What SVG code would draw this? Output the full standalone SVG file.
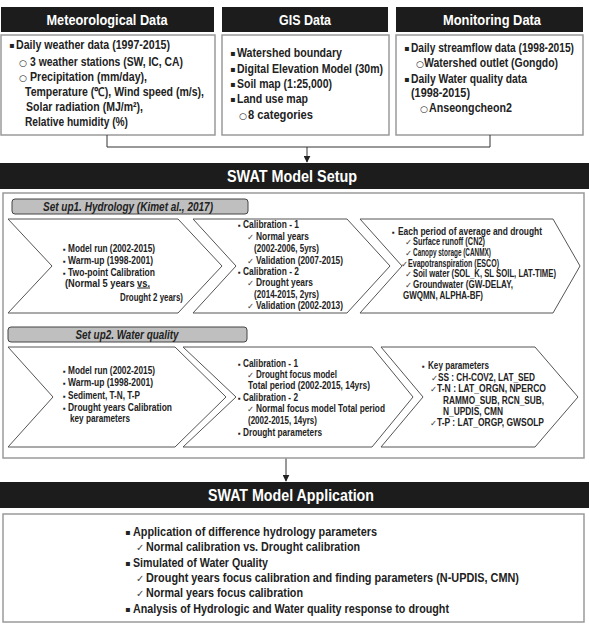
<svg xmlns="http://www.w3.org/2000/svg" width="589" height="627" viewBox="0 0 589 627">
<defs>
<marker id="arr" viewBox="0 0 10 10" refX="9" refY="5" markerWidth="7" markerHeight="7" orient="auto"><path d="M0,0 L10,5 L0,10 z" fill="#222"/></marker>
<style>
text{font-family:"Liberation Sans Narrow","Liberation Sans",Arial,sans-serif;font-weight:bold;fill:#222}
.hd{font-size:15px;fill:#fff;text-anchor:middle}
.hb{font-size:17px;fill:#fff;text-anchor:middle}
.hbar{fill:#1c1c1c}
.box{fill:#fff;stroke:#9a9a9a;stroke-width:1.5}
.tp{font-size:12px}
.bt{font-size:12px}
.ch{font-size:10px}
.ck{font-size:8.5px;font-weight:normal;fill:#444;font-family:"DejaVu Sans",sans-serif}
.bl{font-size:8px}
.sb{font-size:8px;font-family:"DejaVu Sans",sans-serif;font-weight:normal}
.cir{font-size:9px;font-family:"DejaVu Sans",sans-serif;font-weight:normal}
.chev{fill:#fff;stroke:#555;stroke-width:1}
.lab{fill:#bfbfbf;stroke:#444;stroke-width:1}
.lt{font-size:12px;font-style:italic;text-anchor:middle}
.con{fill:none;stroke:#333;stroke-width:1}
</style>
</defs>

<g id="met">
<rect class="hbar" x="1" y="7" width="213" height="25"/>
<text class="hd" x="107" y="25" textLength="121" lengthAdjust="spacingAndGlyphs">Meteorological Data</text>
<rect class="box" x="1" y="35" width="214" height="100"/>
<text class="sb" x="9" y="48">▪</text><text class="tp" x="16" y="49" textLength="154" lengthAdjust="spacingAndGlyphs">Daily weather data (1997-2015)</text>
<text class="cir" x="19" y="66">○</text><text class="tp" x="30" y="66" textLength="153" lengthAdjust="spacingAndGlyphs">3 weather stations (SW, IC, CA)</text>
<text class="cir" x="19" y="81">○</text><text class="tp" x="30" y="81" textLength="117" lengthAdjust="spacingAndGlyphs">Precipitation (mm/day),</text>
<text class="tp" x="25" y="96" textLength="179" lengthAdjust="spacingAndGlyphs">Temperature (℃), Wind speed (m/s),</text>
<text class="tp" x="26" y="111" textLength="117" lengthAdjust="spacingAndGlyphs">Solar radiation (MJ/m²),</text>
<text class="tp" x="25" y="126" textLength="103" lengthAdjust="spacingAndGlyphs">Relative humidity (%)</text>
</g>

<g id="gis">
<rect class="hbar" x="222" y="7" width="166" height="25"/>
<text class="hd" x="305" y="25" textLength="52" lengthAdjust="spacingAndGlyphs">GIS Data</text>
<rect class="box" x="222" y="35" width="167" height="100"/>
<text class="sb" x="230" y="56">▪</text><text class="tp" x="237" y="57" textLength="105" lengthAdjust="spacingAndGlyphs">Watershed boundary</text>
<text class="sb" x="230" y="72">▪</text><text class="tp" x="237" y="73" textLength="146" lengthAdjust="spacingAndGlyphs">Digital Elevation Model (30m)</text>
<text class="sb" x="230" y="87">▪</text><text class="tp" x="237" y="88" textLength="95" lengthAdjust="spacingAndGlyphs">Soil map (1:25,000)</text>
<text class="sb" x="230" y="102">▪</text><text class="tp" x="237" y="103" textLength="71" lengthAdjust="spacingAndGlyphs">Land use map</text>
<text class="cir" x="239" y="119">○</text><text class="tp" x="248" y="119" textLength="65" lengthAdjust="spacingAndGlyphs">8 categories</text>
</g>

<g id="mon">
<rect class="hbar" x="396" y="7" width="187" height="25"/>
<text class="hd" x="492" y="25" textLength="98" lengthAdjust="spacingAndGlyphs">Monitoring Data</text>
<rect class="box" x="396" y="35" width="187" height="100"/>
<text class="sb" x="404" y="51">▪</text><text class="tp" x="411" y="52" textLength="163" lengthAdjust="spacingAndGlyphs">Daily streamflow data (1998-2015)</text>
<text class="cir" x="416" y="67">○</text><text class="tp" x="424" y="67" textLength="134" lengthAdjust="spacingAndGlyphs">Watershed outlet (Gongdo)</text>
<text class="sb" x="404" y="82">▪</text><text class="tp" x="411" y="83" textLength="116" lengthAdjust="spacingAndGlyphs">Daily Water quality data</text>
<text class="tp" x="411" y="97" textLength="59" lengthAdjust="spacingAndGlyphs">(1998-2015)</text>
<text class="cir" x="420" y="112">○</text><text class="tp" x="429" y="112" textLength="83" lengthAdjust="spacingAndGlyphs">Anseongcheon2</text>
</g>

<g id="connectors">
<path class="con" d="M107,135 V147 H490 V135"/>
<path class="con" d="M307,147 V162" marker-end="url(#arr)"/>
<path class="con" d="M286,458 V481" marker-end="url(#arr)"/>
</g>

<g id="setup">
<rect class="hbar" x="0" y="163" width="589" height="26"/>
<text class="hb" x="292" y="182" textLength="130" lengthAdjust="spacingAndGlyphs">SWAT Model Setup</text>
<rect class="box" x="3" y="193" width="581" height="265"/>
</g>

<g id="setup1-label">
<rect class="lab" x="12" y="199" width="236" height="15" rx="3"/>
<text class="lt" x="128" y="211" textLength="170" lengthAdjust="spacingAndGlyphs">Set up1. Hydrology (Kimet al., 2017)</text>
</g>

<g id="s1c1">
<polygon class="chev" points="8,219 178,219 222,266 178,313 8,313 52,266"/>
<text class="bl" x="63" y="251.5">▪</text><text class="ch" x="68" y="251.5" textLength="87" lengthAdjust="spacingAndGlyphs">Model run (2002-2015)</text>
<text class="bl" x="63" y="263.5">▪</text><text class="ch" x="68" y="263.5" textLength="85" lengthAdjust="spacingAndGlyphs">Warm-up (1998-2001)</text>
<text class="bl" x="63" y="275.5">▪</text><text class="ch" x="68" y="275.5" textLength="87" lengthAdjust="spacingAndGlyphs">Two-point Calibration</text>
<text class="ch" x="65" y="286.5" textLength="85" lengthAdjust="spacingAndGlyphs">(Normal 5 years <tspan text-decoration="underline">vs.</tspan></text>
<text class="ch" x="120" y="300.5" textLength="63" lengthAdjust="spacingAndGlyphs">Drought 2 years)</text>
</g>

<g id="s1c2">
<polygon class="chev" points="193,219 347,219 390,266 347,313 193,313 236,266"/>
<text class="bl" x="238" y="227.5">▪</text><text class="ch" x="243" y="227.5" textLength="56" lengthAdjust="spacingAndGlyphs">Calibration - 1</text>
<text class="ck" x="247" y="239.5">✓</text><text class="ch" x="256" y="239.5" textLength="53" lengthAdjust="spacingAndGlyphs">Normal years</text>
<text class="ch" x="254" y="251.5" textLength="65" lengthAdjust="spacingAndGlyphs">(2002-2006, 5yrs)</text>
<text class="ck" x="247" y="263.5">✓</text><text class="ch" x="256" y="263.5" textLength="87" lengthAdjust="spacingAndGlyphs">Validation (2007-2015)</text>
<text class="bl" x="238" y="274.5">▪</text><text class="ch" x="243" y="274.5" textLength="56" lengthAdjust="spacingAndGlyphs">Calibration - 2</text>
<text class="ck" x="247" y="285.5">✓</text><text class="ch" x="256" y="285.5" textLength="57" lengthAdjust="spacingAndGlyphs">Drought years</text>
<text class="ch" x="254" y="297.5" textLength="65" lengthAdjust="spacingAndGlyphs">(2014-2015, 2yrs)</text>
<text class="ck" x="247" y="308.5">✓</text><text class="ch" x="256" y="308.5" textLength="87" lengthAdjust="spacingAndGlyphs">Validation (2002-2013)</text>
</g>

<g id="s1c3">
<polygon class="chev" points="360,219 553,219 580,266 553,313 360,313 402,266"/>
<text class="bl" x="392" y="234.5">▪</text><text class="ch" x="398" y="234.5" textLength="144" lengthAdjust="spacingAndGlyphs">Each period of average and drought</text>
<text class="ck" x="405" y="244.5">✓</text><text class="ch" x="413" y="244.5" textLength="72" lengthAdjust="spacingAndGlyphs">Surface runoff (CN2)</text>
<text class="ck" x="405" y="255.5">✓</text><text class="ch" x="413" y="255.5" textLength="78" lengthAdjust="spacingAndGlyphs">Canopy storage (CANMX)</text>
<text class="ck" x="401" y="266.5">✓</text><text class="ch" x="408" y="266.5" textLength="91" lengthAdjust="spacingAndGlyphs">Evapotranspiration (ESCO)</text>
<text class="ck" x="405" y="276.5">✓</text><text class="ch" x="413" y="276.5" textLength="143" lengthAdjust="spacingAndGlyphs">Soil water (SOL_K, SL SOIL, LAT-TIME)</text>
<text class="ck" x="405" y="287.5">✓</text><text class="ch" x="413" y="287.5" textLength="100" lengthAdjust="spacingAndGlyphs">Groundwater (GW-DELAY,</text>
<text class="ch" x="403" y="298.5" textLength="80" lengthAdjust="spacingAndGlyphs">GWQMN, ALPHA-BF)</text>
</g>

<g id="setup2-label">
<rect class="lab" x="8" y="327" width="239" height="15" rx="3"/>
<text class="lt" x="127" y="339" textLength="103" lengthAdjust="spacingAndGlyphs">Set up2. Water quality</text>
</g>

<g id="s2c1">
<polygon class="chev" points="8,347 175,347 226,397 175,447 8,447 53,397"/>
<text class="bl" x="63" y="373.5">▪</text><text class="ch" x="68" y="373.5" textLength="87" lengthAdjust="spacingAndGlyphs">Model run (2002-2015)</text>
<text class="bl" x="63" y="386">▪</text><text class="ch" x="68" y="386" textLength="85" lengthAdjust="spacingAndGlyphs">Warm-up (1998-2001)</text>
<text class="bl" x="63" y="398.5">▪</text><text class="ch" x="68" y="398.5" textLength="72" lengthAdjust="spacingAndGlyphs">Sediment, T-N, T-P</text>
<text class="bl" x="63" y="410.5">▪</text><text class="ch" x="68" y="410.5" textLength="104" lengthAdjust="spacingAndGlyphs">Drought years Calibration</text>
<text class="ch" x="70" y="421.5" textLength="60" lengthAdjust="spacingAndGlyphs">key parameters</text>
</g>

<g id="s2c2">
<polygon class="chev" points="183,347 372,347 413,397 372,447 183,447 236,397"/>
<text class="bl" x="238" y="366.5">▪</text><text class="ch" x="243" y="366.5" textLength="55" lengthAdjust="spacingAndGlyphs">Calibration - 1</text>
<text class="ck" x="247" y="377.5">✓</text><text class="ch" x="256" y="377.5" textLength="81" lengthAdjust="spacingAndGlyphs">Drought focus model</text>
<text class="ch" x="248" y="388.5" textLength="122" lengthAdjust="spacingAndGlyphs">Total period (2002-2015, 14yrs)</text>
<text class="bl" x="238" y="400.5">▪</text><text class="ch" x="243" y="400.5" textLength="55" lengthAdjust="spacingAndGlyphs">Calibration - 2</text>
<text class="ck" x="247" y="411.5">✓</text><text class="ch" x="256" y="411.5" textLength="129" lengthAdjust="spacingAndGlyphs">Normal focus model Total period</text>
<text class="ch" x="248" y="423.5" textLength="69" lengthAdjust="spacingAndGlyphs">(2002-2015, 14yrs)</text>
<text class="bl" x="238" y="435.5">▪</text><text class="ch" x="243" y="435.5" textLength="79" lengthAdjust="spacingAndGlyphs">Drought parameters</text>
</g>

<g id="s2c3">
<polygon class="chev" points="381,347 535,347 578,397 535,447 381,447 423,397"/>
<text class="bl" x="422" y="368.5">▪</text><text class="ch" x="428" y="368.5" textLength="61" lengthAdjust="spacingAndGlyphs">Key parameters</text>
<text class="ck" x="431" y="380.5">✓</text><text class="ch" x="438" y="380.5" textLength="97" lengthAdjust="spacingAndGlyphs">SS : CH-COV2, LAT_SED</text>
<text class="ck" x="430" y="391.5">✓</text><text class="ch" x="437" y="391.5" textLength="109" lengthAdjust="spacingAndGlyphs">T-N : LAT_ORGN, NPERCO</text>
<text class="ch" x="443" y="403.5" textLength="101" lengthAdjust="spacingAndGlyphs">RAMMO_SUB, RCN_SUB,</text>
<text class="ch" x="443" y="414.5" textLength="60" lengthAdjust="spacingAndGlyphs">N_UPDIS, CMN</text>
<text class="ck" x="430" y="425.5">✓</text><text class="ch" x="437" y="425.5" textLength="107" lengthAdjust="spacingAndGlyphs">T-P : LAT_ORGP, GWSOLP</text>
</g>

<g id="application">
<rect class="hbar" x="0" y="482" width="589" height="26"/>
<text class="hb" x="291" y="501" textLength="166" lengthAdjust="spacingAndGlyphs">SWAT Model Application</text>
<rect class="box" x="3" y="514" width="581" height="108"/>
<text class="sb" x="125" y="535">▪</text><text class="bt" x="133" y="536" textLength="244" lengthAdjust="spacingAndGlyphs">Application of difference hydrology parameters</text>
<text class="ck" x="136" y="551" style="font-size:10px">✓</text><text class="bt" x="146" y="551" textLength="214" lengthAdjust="spacingAndGlyphs">Normal calibration vs. Drought calibration</text>
<text class="sb" x="125" y="566">▪</text><text class="bt" x="133" y="567" textLength="135" lengthAdjust="spacingAndGlyphs">Simulated of Water Quality</text>
<text class="ck" x="136" y="582" style="font-size:10px">✓</text><text class="bt" x="146" y="582" textLength="373" lengthAdjust="spacingAndGlyphs">Drought years focus calibration and finding parameters (N-UPDIS, CMN)</text>
<text class="ck" x="136" y="597" style="font-size:10px">✓</text><text class="bt" x="146" y="597" textLength="157" lengthAdjust="spacingAndGlyphs">Normal years focus calibration</text>
<text class="sb" x="125" y="612">▪</text><text class="bt" x="133" y="613" textLength="316" lengthAdjust="spacingAndGlyphs">Analysis of Hydrologic and Water quality response to drought</text>
</g>
</svg>
